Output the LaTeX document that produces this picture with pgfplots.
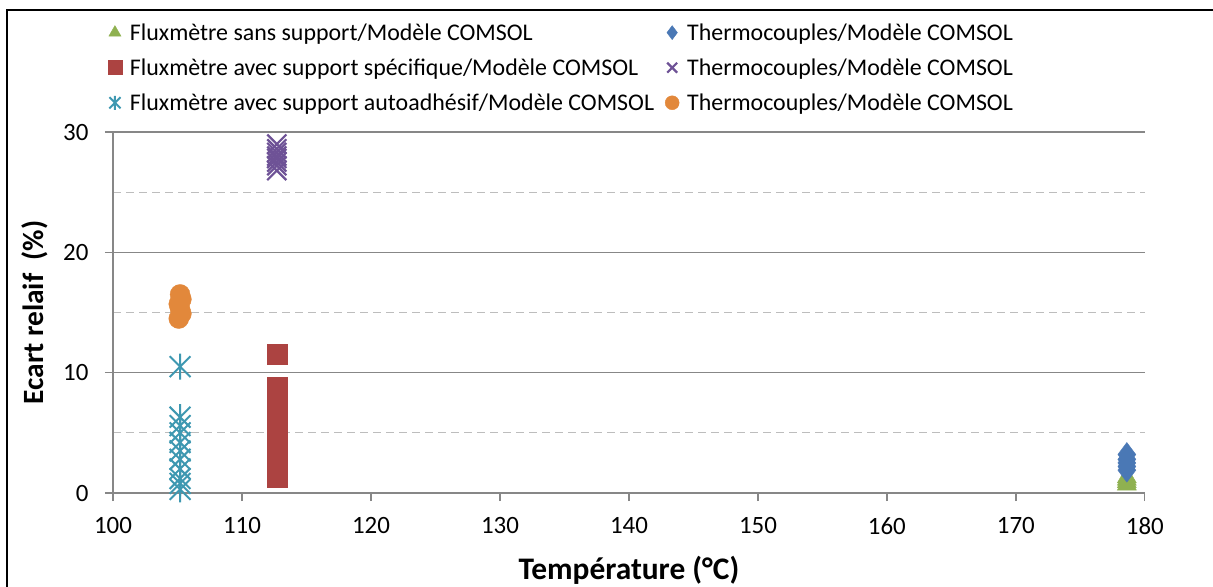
\documentclass[border=0pt]{standalone}
\usepackage{fontspec}
\setmainfont{Carlito}
\usepackage{pgfplots}
\pgfplotsset{compat=1.18}

\definecolor{cgreen}{HTML}{8FB150}
\definecolor{cblue}{HTML}{4A78B5}
\definecolor{cred}{HTML}{AC4341}
\definecolor{cpurple}{HTML}{6E5296}
\definecolor{ccyan}{HTML}{3E98B1}
\definecolor{corange}{HTML}{E2883B}
\definecolor{axgray}{HTML}{878787}
\definecolor{mingray}{HTML}{BDBDBD}

% Excel-like star: an X with a vertical bar
\pgfdeclareplotmark{xstar}{%
  \pgfpathmoveto{\pgfqpoint{0pt}{-\pgfplotmarksize}}%
  \pgfpathlineto{\pgfqpoint{0pt}{\pgfplotmarksize}}%
  \pgfpathmoveto{\pgfqpoint{-.8\pgfplotmarksize}{-.8\pgfplotmarksize}}%
  \pgfpathlineto{\pgfqpoint{.8\pgfplotmarksize}{.8\pgfplotmarksize}}%
  \pgfpathmoveto{\pgfqpoint{-.8\pgfplotmarksize}{.8\pgfplotmarksize}}%
  \pgfpathlineto{\pgfqpoint{.8\pgfplotmarksize}{-.8\pgfplotmarksize}}%
  \pgfusepathqstroke}

\begin{document}
\begin{tikzpicture}
\begin{axis}[
    at={(113bp,-493bp)}, anchor=south west,
    scale only axis,
    width=1032bp, height=361bp,
    xmin=100, xmax=180,
    ymin=0, ymax=30,
    xtick={100,110,...,180},
    ytick={0,10,20,30},
    minor ytick={5,15,25},
    ymajorgrids, yminorgrids,
    major grid style={axgray, line width=1.2bp},
    minor grid style={mingray, dashed, line width=1.2bp, dash pattern=on 8bp off 5bp},
    axis x line*=bottom, axis y line*=left,
    axis line style={axgray, line width=1.2bp},
    tick align=outside,
    major tick length=8bp, minor tick length=0pt,
    tick style={axgray, line width=1.2bp},
    /pgf/number format/assume math mode=true,
    ticklabel style={font=\fontsize{25}{30}\selectfont},
    xticklabel style={yshift=-13bp},
    yticklabel style={xshift=-13bp},
    xlabel={Température (°C)},
    ylabel={Ecart relaif\ \ (\%)},
    xlabel style={font=\fontsize{31.5}{38}\bfseries,
        at={(axis description cs:0.5,-0.213)}, anchor=center},
    ylabel style={font=\fontsize{29.5}{35}\bfseries,
        at={(axis description cs:-0.0756,0.5)}, anchor=center},
    legend columns=2,
    legend cell align=left,
    legend style={at={(rel axis cs:-0.008,1.312)}, anchor=north west,
        draw=none, fill=none, font=\fontsize{24}{29}\selectfont,
        row sep=13bp,
        /tikz/every odd column/.append style={column sep=6bp},
        /tikz/every even column/.append style={column sep=9bp}},
    legend image post style={mark size=7bp},
    clip=false,
]
% Fluxmetre sans support
\addplot[only marks, mark=triangle*, mark size=11bp, color=cgreen] coordinates {
    (178.6,0.7) (178.6,0.9) (178.6,1.1) (178.6,1.3)};
\addlegendentry{Fluxmètre sans support/Modèle COMSOL}
% Thermocouples (diamond)
\addplot[only marks, mark=diamond*, mark size=12bp, color=cblue] coordinates {
    (178.6,1.9) (178.6,2.2) (178.6,2.5) (178.6,2.8) (178.6,3.2)};
\addlegendentry{Thermocouples/Modèle COMSOL}
% Fluxmetre avec support specifique
\addplot[only marks, mark=square*, mark size=10bp, color=cred] coordinates {
    (112.7,1.3) (112.7,2.0) (112.7,2.5) (112.7,3.2) (112.7,3.8) (112.7,4.5)
    (112.7,5.2) (112.7,6.0) (112.7,6.8) (112.7,7.5) (112.7,8.2) (112.7,8.8)
    (112.7,11.5)};
\addlegendentry{Fluxmètre avec support spécifique/Modèle COMSOL}
% Thermocouples (x)
\addplot[only marks, mark=x, mark size=13.5bp, color=cpurple, mark options={line width=2.2bp}] coordinates {
    (112.7,26.8) (112.7,27.2) (112.7,27.5) (112.7,27.8) (112.7,28.0)
    (112.7,28.3) (112.7,28.6) (112.7,29.0)};
\addlegendentry{Thermocouples/Modèle COMSOL}
% Fluxmetre avec support autoadhesif
\addplot[only marks, mark=xstar, mark size=13bp, color=ccyan, mark options={line width=2bp}] coordinates {
    (105.2,0.3) (105.2,0.8) (105.2,1.2) (105.2,2.0) (105.2,2.8) (105.2,3.5)
    (105.2,4.2) (105.2,5.0) (105.2,5.6) (105.2,6.3) (105.2,10.5)};
\addlegendentry{Fluxmètre avec support autoadhésif/Modèle COMSOL}
% Thermocouples (circle)
\addplot[only marks, mark=*, mark size=10bp, color=corange] coordinates {
    (105.1,14.5) (105.3,14.9) (105.2,15.3) (105.1,15.7) (105.3,16.1) (105.2,16.5)};
\addlegendentry{Thermocouples/Modèle COMSOL}
\end{axis}
\draw[line width=2bp] (7bp,-600bp) -- (7bp,-9.5bp) -- (1220bp,-9.5bp);
\pgfresetboundingbox
\useasboundingbox (0,0) rectangle (1213bp,-587bp);
\end{tikzpicture}
\end{document}
